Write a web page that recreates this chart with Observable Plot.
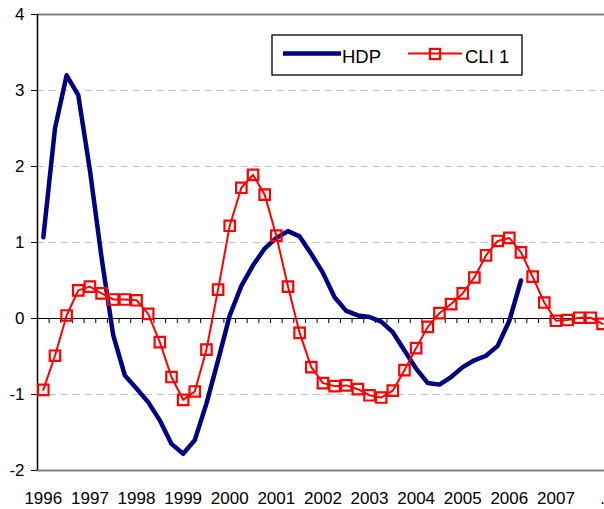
<!DOCTYPE html>
<html><head><meta charset="utf-8">
<script src="https://cdn.jsdelivr.net/npm/d3@7"></script>
<script src="https://cdn.jsdelivr.net/npm/@observablehq/plot@0.6"></script>
<style>
body{margin:0;background:#fff;overflow:hidden;font-family:"Liberation Sans",Arial,sans-serif}
#wrap{position:relative;width:604px;height:509px;overflow:hidden}
</style></head><body><div id="wrap"></div>
<script>
// Year labels (one per 4 quarters), starting 1996 Q1
const yearLabels = ["1996","1997","1998","1999","2000","2001","2002","2003","2004","2005","2006","2007","."];
// HDP (quarterly, from 1996 Q1)
const hdp = [1.07, 2.50, 3.20, 2.94, 1.95, 0.80, -0.22, -0.75, -0.92, -1.10, -1.34, -1.65, -1.78, -1.60, -1.12, -0.55,
  0.04, 0.43, 0.70, 0.92, 1.06, 1.15, 1.08, 0.85, 0.60, 0.28, 0.10, 0.04, 0.02, -0.04, -0.18, -0.42,
  -0.66, -0.85, -0.87, -0.77, -0.64, -0.55, -0.49, -0.36, -0.03, 0.50];
// CLI 1 (quarterly, from 1996 Q1)
const cli = [-0.94, -0.49, 0.04, 0.37, 0.42, 0.33, 0.25, 0.25, 0.24, 0.06, -0.31, -0.77, -1.07, -0.96, -0.41, 0.38,
  1.22, 1.72, 1.89, 1.63, 1.09, 0.42, -0.19, -0.64, -0.85, -0.89, -0.88, -0.93, -1.01, -1.04, -0.95, -0.68,
  -0.39, -0.11, 0.07, 0.19, 0.33, 0.54, 0.83, 1.02, 1.06, 0.87, 0.55, 0.21, -0.03, -0.02, 0.01, 0.01, -0.07];
const yTicks = [-2, -1, 0, 1, 2, 3, 4];
const gridValues = [-1, 1, 2, 3];
const frameValues = [-2, 4];

const hdpData = hdp.map((v, i) => ({q: i, v}));
const cliData = cli.map((v, i) => ({q: i, v}));
const nQ = (yearLabels.length - 1) * 4 + 1;
const xMin = -0.5;
const quarterEdges = d3.range(nQ + 1).map(i => i - 0.5);
const bandW = 11.65;
const font = '"Liberation Sans", Arial, sans-serif';

const chart = Plot.plot({
  width: 604, height: 509,
  marginTop: 14, marginBottom: 39, marginLeft: 37, marginRight: 0,
  style: {fontFamily: font, fontSize: "17px", color: "#000", background: "#fff"},
  x: {type: "linear", domain: [xMin, nQ - 0.5], range: [37, 37 + nQ * bandW],
      ticks: yearLabels.map((_, k) => k * 4), tickFormat: d => yearLabels[Math.round(d / 4)],
      tickSize: 0, tickPadding: 21, label: null},
  y: {domain: [-2, 4], ticks: yTicks, tickSize: 6, tickPadding: 7, tickFormat: d => String(d), label: null},
  marks: [
    Plot.ruleY(gridValues, {stroke: "#c0c0c0", strokeDasharray: "7,5"}),
    Plot.ruleY(frameValues, {stroke: "#808080", strokeWidth: 2}),
    Plot.ruleY([0], {stroke: "#000", strokeWidth: 1}),
    Plot.ruleX(quarterEdges, {x: d => d, y1: 0, y2: 0, insetBottom: -5, stroke: "#000"}),
    Plot.ruleX([xMin], {stroke: "#000", strokeWidth: 1.5}),
    Plot.line(hdpData, {x: "q", y: "v", stroke: "#000080", strokeWidth: 4.5, strokeLinejoin: "round"}),
    Plot.line(cliData, {x: "q", y: "v", stroke: "#ff0000", strokeWidth: 2}),
    Plot.dot(cliData, {x: "q", y: "v", symbol: "square", r: 5.9, stroke: "#ff0000", strokeWidth: 2.2, fill: "none"})
  ]
});
const wrap = document.getElementById("wrap");
wrap.appendChild(chart);

// Legend
const lg = d3.select(wrap).append("svg")
  .attr("width", 252).attr("height", 42)
  .style("position", "absolute").style("left", "271px").style("top", "34px");
lg.append("rect").attr("x", 1).attr("y", 1).attr("width", 250).attr("height", 40)
  .attr("fill", "#fff").attr("stroke", "#000").attr("stroke-width", 1.3);
lg.append("line").attr("x1", 12).attr("x2", 70).attr("y1", 19.5).attr("y2", 19.5)
  .attr("stroke", "#000080").attr("stroke-width", 4.5);
lg.append("text").attr("x", 71).attr("y", 28.5).text("HDP")
  .attr("font-family", font).attr("font-size", 18.5).attr("fill", "#000");
lg.append("line").attr("x1", 137).attr("x2", 191).attr("y1", 19.5).attr("y2", 19.5)
  .attr("stroke", "#ff0000").attr("stroke-width", 2);
lg.append("rect").attr("x", 164 - 5.1).attr("y", 20 - 5.1).attr("width", 10.2).attr("height", 10.2)
  .attr("fill", "none").attr("stroke", "#ff0000").attr("stroke-width", 2.2);
lg.append("text").attr("x", 194).attr("y", 28.5).text("CLI 1")
  .attr("font-family", font).attr("font-size", 18.5).attr("fill", "#000");
</script></body></html>
